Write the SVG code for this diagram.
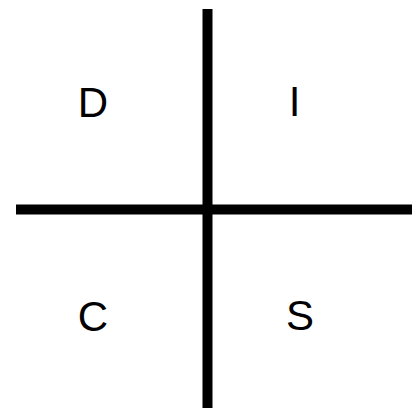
<svg xmlns="http://www.w3.org/2000/svg" width="418" height="408" viewBox="0 0 418 408">
<style>
.ax{stroke:#000;stroke-width:10;fill:none}
.t{font-family:"Liberation Sans",Arial,sans-serif;font-size:42px;fill:#000;text-anchor:middle}
</style>
<rect width="418" height="408" fill="#fff"/>
<g id="connectors">
<line class="ax" x1="207.5" y1="9" x2="207.5" y2="408"/>
<line class="ax" x1="16" y1="209.5" x2="412" y2="209.5"/>
</g>
<g id="D"><text class="t" x="93" y="117">D</text></g>
<g id="I"><text class="t" x="294.5" y="116">I</text></g>
<g id="C"><text class="t" x="93" y="331">C</text></g>
<g id="S"><text class="t" x="300" y="330">S</text></g>
</svg>
